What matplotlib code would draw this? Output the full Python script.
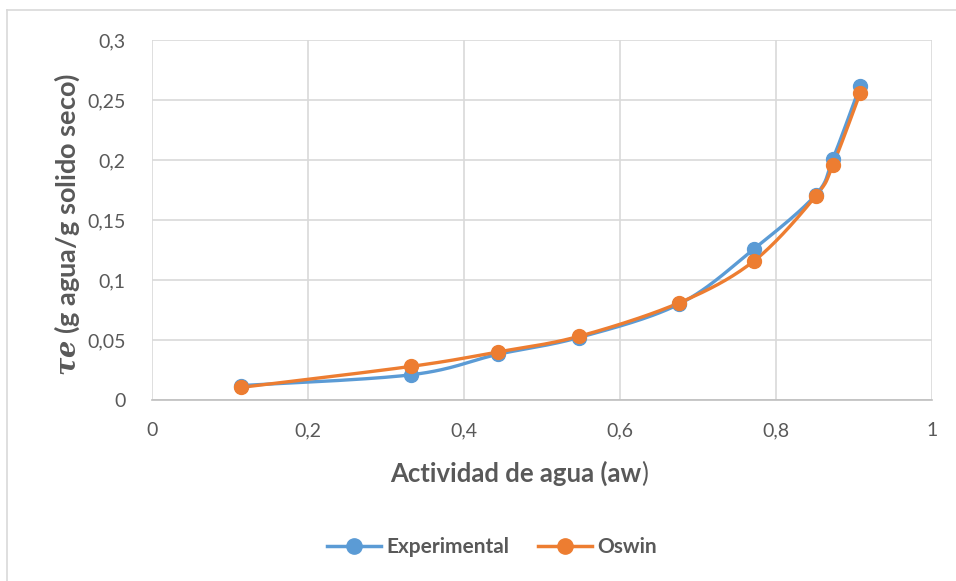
import numpy as np
import matplotlib
matplotlib.use('Agg')
import matplotlib.pyplot as plt
from matplotlib.lines import Line2D

# data
aw = [0.114, 0.332, 0.443, 0.547, 0.676, 0.772, 0.851, 0.873, 0.908]
experimental = [0.012, 0.021, 0.038, 0.052, 0.080, 0.126, 0.171, 0.201, 0.262]
oswin = [0.0105, 0.028, 0.040, 0.053, 0.081, 0.116, 0.170, 0.196, 0.256]

x_ticks = [0, 0.2, 0.4, 0.6, 0.8, 1]
y_ticks = [0, 0.05, 0.1, 0.15, 0.2, 0.25, 0.3]

BLUE = '#5B9BD5'
ORANGE = '#ED7D31'
TXT = '#595959'

plt.rcParams['font.family'] = ['Lato', 'DejaVu Sans']
plt.rcParams['mathtext.fontset'] = 'custom'
plt.rcParams['mathtext.it'] = 'DejaVu Serif:bold:italic'
plt.rcParams['mathtext.rm'] = 'Lato:bold'


def smooth(xs, ys, sx=780.0, sy=1203.0, n=30):
    # Catmull-Rom style smoothing (similar to Excel's smoothed lines)
    P = np.column_stack([np.array(xs) * sx, np.array(ys) * sy])
    P = np.vstack([P[0], P, P[-1]])
    out = []
    for i in range(1, len(P) - 2):
        p0, p1, p2, p3 = P[i - 1], P[i], P[i + 1], P[i + 2]
        c1 = p1 + (p2 - p0) / 6.0
        c2 = p2 - (p3 - p1) / 6.0
        t = np.linspace(0, 1, n)[:, None]
        seg = ((1 - t) ** 3) * p1 + 3 * ((1 - t) ** 2) * t * c1 + 3 * (1 - t) * t ** 2 * c2 + t ** 3 * p2
        out.append(seg if i == 1 else seg[1:])
    out = np.vstack(out)
    return out[:, 0] / sx, out[:, 1] / sy


fig = plt.figure(figsize=(9.56, 5.81), dpi=100)
ax = fig.add_axes([152 / 956, 1 - 400 / 581, 780 / 956, 360 / 581])

for ys, col in [(experimental, BLUE), (oswin, ORANGE)]:
    sxs, sys_ = smooth(aw, ys)
    ax.plot(sxs, sys_, color=col, lw=2.4, solid_capstyle='round', zorder=3)
    ax.plot(aw, ys, 'o', color=col, ms=10, mec=col, zorder=4)

ax.set_xlim(0, 1)
ax.set_ylim(0, 0.3)
ax.set_xticks(x_ticks)
ax.set_yticks(y_ticks)
ax.set_xticklabels([f'{v:g}'.replace('.', ',') for v in x_ticks])
ax.set_yticklabels([f'{v:g}'.replace('.', ',') for v in y_ticks])
ax.tick_params(length=0, labelsize=14, labelcolor=TXT)
ax.tick_params(axis='x', pad=16)
ax.tick_params(axis='y', pad=19)
ax.grid(True, color='#D9D9D9', lw=1.2)
ax.set_axisbelow(True)
for s in ['top', 'right', 'left']:
    ax.spines[s].set_visible(False)
ax.spines['bottom'].set_color('#BFBFBF')
ax.spines['bottom'].set_linewidth(1.2)

fig.text(67 / 956, 1 - 224 / 581, r'$\tau e$ (g agua/g solido seco)', rotation=90,
         ha='center', va='center', fontsize=19.5, fontweight='bold', color=TXT)
fig.text(516 / 956, 1 - 473 / 581, 'Actividad de agua (aw', ha='center', va='center',
         fontsize=18.5, fontweight='bold', color=TXT)
fig.text(641 / 956, 1 - 474 / 581, ')', ha='left', va='center', fontsize=18.5, color=TXT)

handles = [Line2D([], [], color=BLUE, lw=2.5, marker='o', ms=11),
           Line2D([], [], color=ORANGE, lw=2.5, marker='o', ms=11)]
leg = fig.legend(handles, ['Experimental', 'Oswin'], loc='center', bbox_to_anchor=(492 / 956, 1 - 547 / 581),
                 ncol=2, frameon=False, fontsize=15, handlelength=2.6, columnspacing=1.4, handletextpad=0.25)
for t in leg.get_texts():
    t.set_fontweight('bold')
    t.set_color(TXT)

# outer chart border (left and top edges visible)
fig.add_artist(Line2D([7 / 956, 7 / 956], [1 - 10 / 581, 0], transform=fig.transFigure, color='#D9D9D9', lw=1.2))
fig.add_artist(Line2D([7 / 956, 1], [1 - 10 / 581, 1 - 10 / 581], transform=fig.transFigure, color='#D9D9D9', lw=1.2))

fig.savefig('out.png', dpi=100)
